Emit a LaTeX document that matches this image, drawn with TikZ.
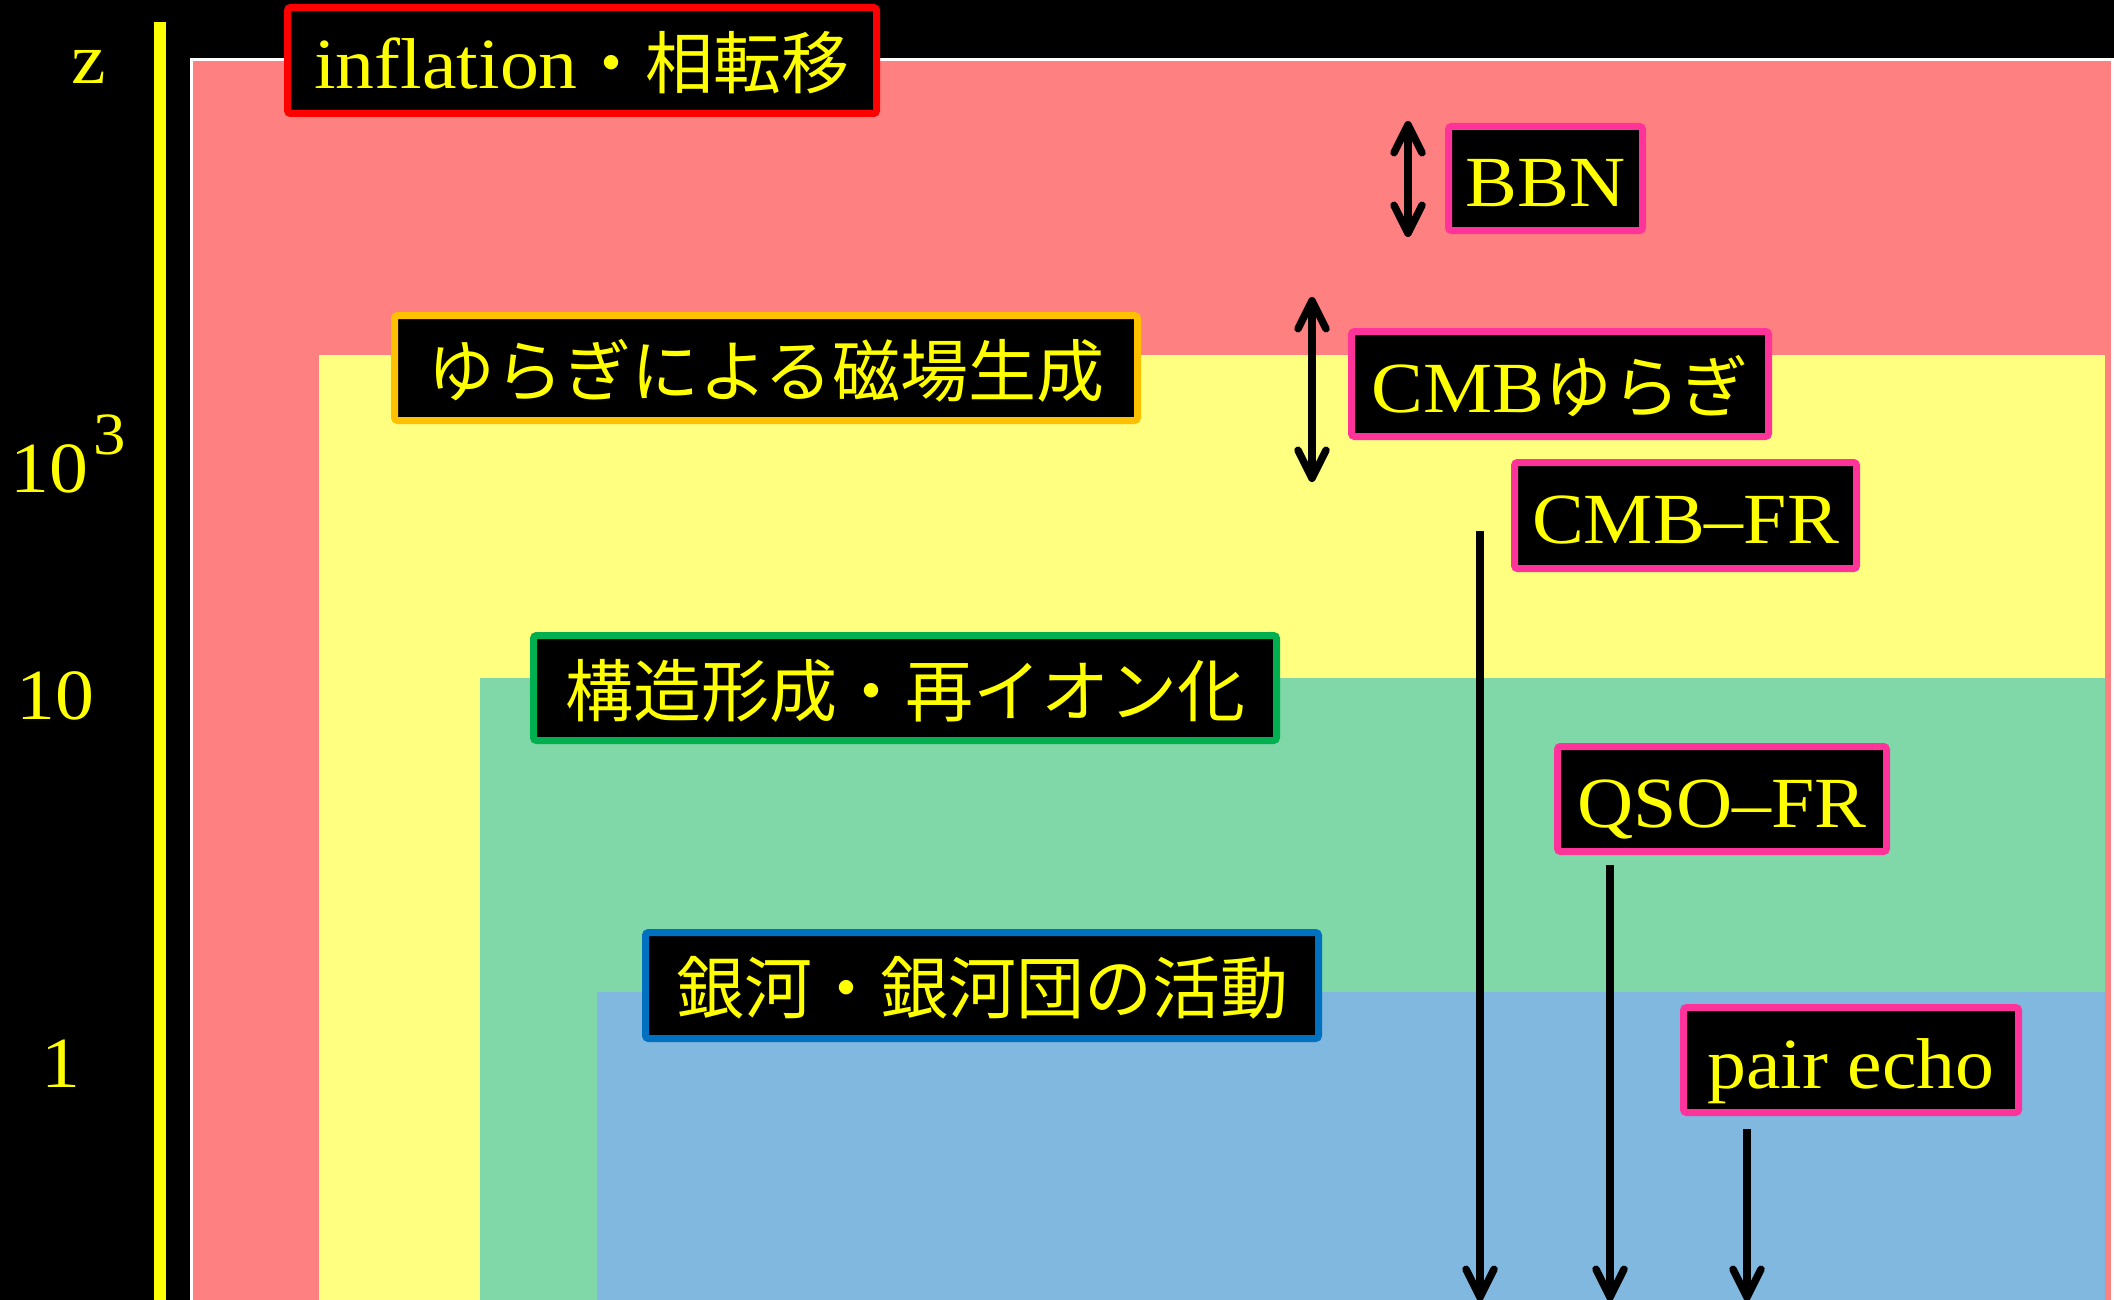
\documentclass[tikz,border=0pt]{standalone}
\usepackage{fontspec}
\setmainfont{Liberation Serif}[FakeStretch=1.08]
\newfontfamily\jpfont{Noto Sans CJK JP}
\newcommand\jtext[1]{{\jpfont\fontsize{68}{80}\selectfont #1}}
\usetikzlibrary{arrows.meta}
\definecolor{pinkF}{RGB}{255,128,128}
\definecolor{yelF}{RGB}{255,255,128}
\definecolor{greenF}{RGB}{128,216,168}
\definecolor{blueF}{RGB}{128,184,224}
\definecolor{bRed}{RGB}{255,0,0}
\definecolor{bOrange}{RGB}{255,192,0}
\definecolor{bGreen}{RGB}{0,176,80}
\definecolor{bBlue}{RGB}{0,112,192}
\definecolor{bMag}{RGB}{255,51,153}
\definecolor{txtY}{RGB}{255,255,0}
\begin{document}
\begin{tikzpicture}[x=1pt,y=-1pt,
  lbl/.style={draw=#1, fill=black, line width=7pt, rounded corners=3pt,
    text=txtY, font=\fontsize{72}{80}\selectfont,
    text height=60pt, text depth=4pt, inner sep=0pt},
  axl/.style={text=txtY, font=\fontsize{72}{80}\selectfont, inner sep=0pt},
  dbl/.style={line width=7.5pt,
    {Straight Barb[length=28pt,width=28pt,round]}-{Straight Barb[length=28pt,width=28pt,round]}},
  down/.style={line width=7.5pt, -{Straight Barb[length=28pt,width=28pt,round]}}]
\useasboundingbox (0,0) rectangle (2114,1300);
\fill[black] (0,0) rectangle (2114,1300);
% eras
\fill[pinkF] (191,59.5) rectangle (2112,1300);
\draw[white,line width=3pt] (191,1300) -- (191,59.5) -- (2112,59.5) -- (2112,1300);
\fill[yelF] (319,355) rectangle (2105,1300);
\fill[greenF] (480,678) rectangle (2105,1300);
\fill[blueF] (597,992) rectangle (2105,1300);
% axis
\fill[txtY] (154,22) rectangle (166,1300);
\node[axl] (zlab) at (89,67) {z};
\node[axl, anchor=base west] (k3) at (10,492) {10\kern6pt\raisebox{38pt}{\fontsize{60}{62}\selectfont 3}};
\node[axl] (k10) at (55,696) {10};
\node[axl] (k1) at (61,1064) {1};
% labels
\node[lbl=bRed, minimum width=589pt, minimum height=106pt] (infl) at (582,60.5) {inflation\jtext{・相転移}};
\node[lbl=bOrange, minimum width=743pt, minimum height=105pt] (yura) at (766,368) {\jtext{ゆらぎによる磁場生成}};
\node[lbl=bGreen, minimum width=743pt, minimum height=105pt] (kozo) at (905,688) {\jtext{構造形成・再イオン化}};
\node[lbl=bBlue, minimum width=673pt, minimum height=106pt] (ginga) at (982,985.5) {\jtext{銀河・銀河団の活動}};
\node[lbl=bMag, minimum width=194pt, minimum height=104pt] (bbn) at (1545.5,178.5) {BBN};
\node[lbl=bMag, minimum width=417pt, minimum height=105pt] (cmbyu) at (1560,384) {CMB\jtext{ゆらぎ}};
\node[lbl=bMag, minimum width=342pt, minimum height=106pt] (cmbfr) at (1685.5,515.5) {CMB–FR};
\node[lbl=bMag, minimum width=329pt, minimum height=105pt] (qso) at (1722,799) {QSO–FR};
\node[lbl=bMag, minimum width=335pt, minimum height=105pt] (pair) at (1851,1060) {pair echo};
% arrows
\coordinate (bbnT) at (1408,121);
\coordinate (bbnB) at (1408,237);
\coordinate (cmbT) at (1312,297);
\coordinate (cmbB) at (1312,482);
\coordinate (frT) at (1480,531);
\coordinate (frB) at (1480,1301);
\coordinate (qsoT) at (1610,865);
\coordinate (qsoB) at (1610,1301);
\coordinate (peT) at (1747,1129);
\coordinate (peB) at (1747,1301);
\draw[dbl] (bbnT) -- (bbnB);
\draw[dbl] (cmbT) -- (cmbB);
\draw[down] (frT) -- (frB);
\draw[down] (qsoT) -- (qsoB);
\draw[down] (peT) -- (peB);
\end{tikzpicture}
\end{document}
